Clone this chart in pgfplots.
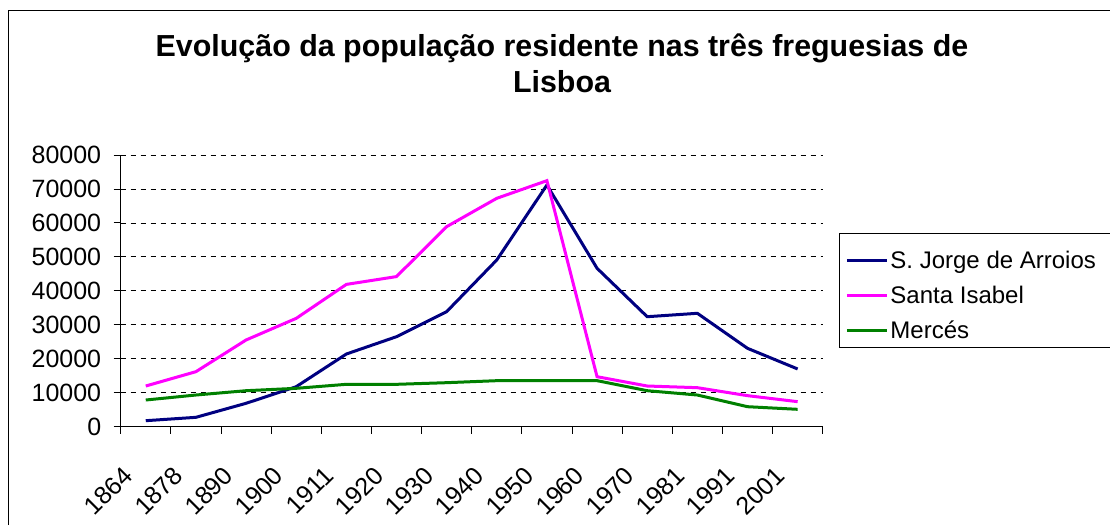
\documentclass[border=0pt]{standalone}
\usepackage{pgfplots}
\pgfplotsset{compat=1.18}
\usepackage{fontspec}
\setmainfont{Liberation Sans}
\definecolor{navyc}{RGB}{0,0,128}
\definecolor{magc}{RGB}{255,0,255}
\definecolor{greenc}{RGB}{0,128,0}
\begin{document}
\begin{tikzpicture}[x=1pt,y=1pt]
\useasboundingbox (0,0) rectangle (1110,525);
\draw[line width=1.2pt] (8.5,0) -- (8.5,514.3) -- (1110,514.3);
\draw[line width=1pt] (1110,291) -- (839.3,291) -- (839.3,177.7) -- (1110,177.7);
\node[anchor=base, font=\fontsize{30.4}{36}\selectfont\bfseries] at (562,468) {Evolução da população residente nas três freguesias de};
\node[anchor=base, font=\fontsize{30.4}{36}\selectfont\bfseries] at (562,432) {Lisboa};
\begin{axis}[
  at={(120.7pt,98.3pt)}, anchor=south west,
  scale only axis, width=702pt, height=271.7pt,
  xmin=0, xmax=14, ymin=0, ymax=80000,
  axis x line*=bottom, axis y line*=left,
  axis line style={line width=0.9pt, black},
  xtick={0,...,14},
  x tick label as interval,
  xticklabels={1864,1878,1890,1900,1911,1920,1930,1940,1950,1960,1970,1981,1991,2001},
  ytick={0,10000,...,80000},
  scaled y ticks=false,
  ymajorgrids,
  grid style={black, line width=0.8pt, dash pattern=on 5pt off 5pt},
  tick align=outside,
  major tick length=7pt,
  tick style={black, line width=0.9pt},
  yticklabel style={font=\fontsize{25}{30}\selectfont, xshift=-9pt, /pgf/number format/1000 sep={}, /pgf/number format/assume math mode=true},
  xticklabel style={font=\fontsize{25}{30}\selectfont, /pgf/number format/assume math mode=true, xshift=-17.4pt, yshift=-37.5pt, rotate=45, anchor=east, inner sep=0pt},
  legend style={at={(1.0236,0.677)}, anchor=north west, draw=none, fill=none,
    font=\fontsize{24}{28}\selectfont, row sep=12.2pt, inner xsep=6pt, inner ysep=6pt,
    cells={anchor=west}},
  legend image code/.code={\draw[#1] (0pt,0pt) -- (40pt,0pt);},
  no markers,
]
\addplot[navyc, line width=3pt] coordinates {(0.5,1770) (1.5,2760) (2.5,6890) (3.5,11780) (4.5,21400) (5.5,26500) (6.5,33870) (7.5,49090) (8.5,71170) (9.5,46640) (10.5,32390) (11.5,33390) (12.5,23080) (13.5,17000)};
\addlegendentry{S. Jorge de Arroios}
\addplot[magc, line width=3pt] coordinates {(0.5,11980) (1.5,16200) (2.5,25530) (3.5,31900) (4.5,41900) (5.5,44200) (6.5,58900) (7.5,67250) (8.5,72440) (9.5,14720) (10.5,11980) (11.5,11490) (12.5,9140) (13.5,7370)};
\addlegendentry{Santa Isabel}
\addplot[greenc, line width=3pt] coordinates {(0.5,7860) (1.5,9330) (2.5,10600) (3.5,11300) (4.5,12480) (5.5,12480) (6.5,12960) (7.5,13550) (8.5,13550) (9.5,13550) (10.5,10600) (11.5,9330) (12.5,5890) (13.5,5120)};
\addlegendentry{Mercés}
\end{axis}
\end{tikzpicture}
\end{document}
